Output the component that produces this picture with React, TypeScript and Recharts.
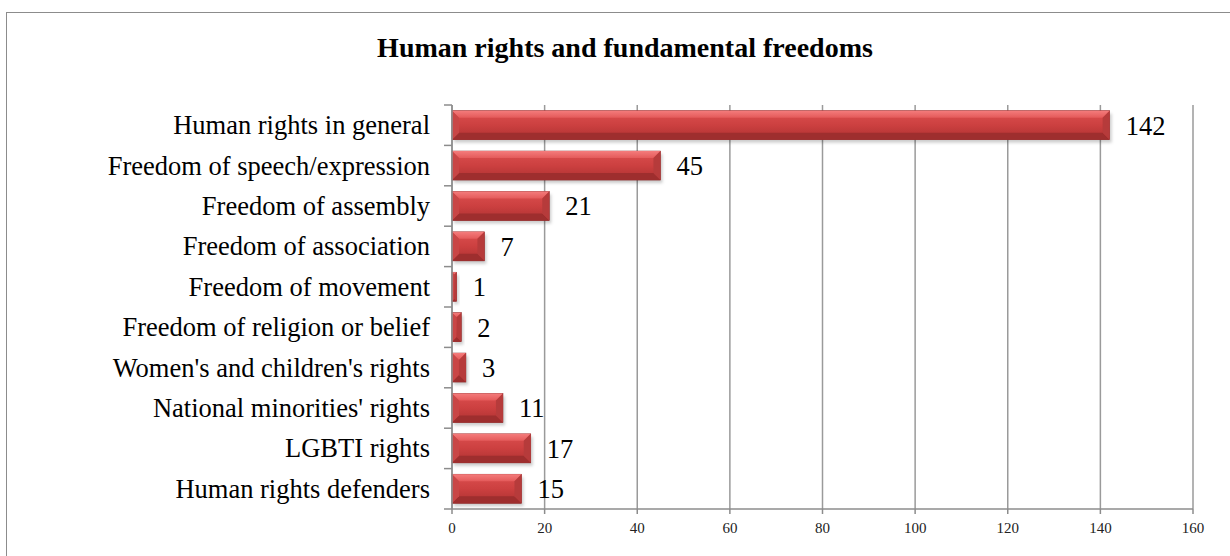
import { BarChart, Bar, XAxis, YAxis, CartesianGrid, LabelList } from 'recharts';

const categories = [
  'Human rights in general',
  'Freedom of speech/expression',
  'Freedom of assembly',
  'Freedom of association',
  'Freedom of movement',
  'Freedom of religion or belief',
  "Women's and children's rights",
  "National minorities' rights",
  'LGBTI rights',
  'Human rights defenders',
];
const counts = [142, 45, 21, 7, 1, 2, 3, 11, 17, 15];
const xTicks = [0, 20, 40, 60, 80, 100, 120, 140, 160];

const data = categories.map((name, i) => ({ name, value: counts[i] }));

const serif = '"Liberation Serif", "Times New Roman", serif';
const axisGrey = '#8c8c8c';
const BAND = 40.4;

// Bevelled red bar like the Office chart style
const BevelBar = (props: any) => {
  const { x, y, width, height } = props;
  if (!width || width <= 0) return null;
  const b = Math.min(7, width / 2, height / 2);
  return (
    <g>
      <rect x={x + 2} y={y + 3} width={width} height={height} fill="rgba(0,0,0,0.2)" filter="url(#barShadow)" />
      <rect x={x} y={y} width={width} height={height} fill="url(#barBody)" stroke="#842222" strokeWidth={0.6} />
      <polygon points={`${x},${y} ${x + width},${y} ${x + width - b},${y + b} ${x + b},${y + b}`} fill="url(#barTop)" />
      <polygon points={`${x},${y + height} ${x + width},${y + height} ${x + width - b},${y + height - b} ${x + b},${y + height - b}`} fill="#9e2e2e" />
      <polygon points={`${x},${y} ${x + b},${y + b} ${x + b},${y + height - b} ${x},${y + height}`} fill="#c94646" />
      <polygon points={`${x + width},${y} ${x + width - b},${y + b} ${x + width - b},${y + height - b} ${x + width},${y + height}`} fill="#b63b3b" />
    </g>
  );
};

const CategoryTick = (props: any) => {
  const { x, y, payload, index } = props;
  return (
    <g>
      <line x1={x} x2={x + 8} y1={y - BAND / 2} y2={y - BAND / 2} stroke={axisGrey} strokeWidth={1.5} />
      {index === categories.length - 1 && (
        <line x1={x} x2={x + 8} y1={y + BAND / 2} y2={y + BAND / 2} stroke={axisGrey} strokeWidth={1.5} />
      )}
      <text x={x - 14} y={y} dy={9} textAnchor="end" fontSize={26.5} fontFamily={serif} fill="#000">
        {payload.value}
      </text>
    </g>
  );
};

export default function App() {
  return (
    <div style={{ position: 'absolute', left: 0, top: 0, width: 1230, height: 556, overflow: 'hidden', background: '#fff' }}>
      <div
        style={{
          position: 'absolute',
          left: 6,
          top: 12,
          width: 1260,
          height: 580,
          border: `1.5px solid ${axisGrey}`,
          boxSizing: 'border-box',
        }}
      />
      <div
        style={{
          position: 'absolute',
          left: 0,
          top: 32,
          width: 1250,
          textAlign: 'center',
          fontFamily: serif,
          fontWeight: 'bold',
          fontSize: 28,
          lineHeight: '32px',
        }}
      >
        Human rights and fundamental freedoms
      </div>
      <div style={{ position: 'absolute', left: 0, top: 0 }}>
        <BarChart
          width={1230}
          height={556}
          data={data}
          layout="vertical"
          margin={{ top: 105, right: 37, bottom: 0, left: 0 }}
          barCategoryGap="14%"
        >
          <defs>
            <linearGradient id="barBody" x1="0" y1="0" x2="0" y2="1">
              <stop offset="0%" stopColor="#dc4f4f" />
              <stop offset="50%" stopColor="#cc4040" />
              <stop offset="100%" stopColor="#ad3131" />
            </linearGradient>
            <linearGradient id="barTop" x1="0" y1="0" x2="0" y2="1">
              <stop offset="0%" stopColor="#f47c7c" />
              <stop offset="100%" stopColor="#e45a5a" />
            </linearGradient>
            <filter id="barShadow" x="-10%" y="-50%" width="120%" height="200%">
              <feGaussianBlur stdDeviation="1.5" />
            </filter>
          </defs>
          <CartesianGrid horizontal={false} stroke="#9a9a9a" strokeWidth={1.5} />
          <XAxis
            type="number"
            domain={[0, 160]}
            ticks={xTicks}
            interval={0}
            height={47}
            stroke={axisGrey}
            strokeWidth={1.5}
            tickSize={5}
            tickMargin={8}
            tick={{ fontSize: 15, fontFamily: serif, fill: '#222' }}
          />
          <YAxis
            type="category"
            dataKey="name"
            width={452}
            stroke={axisGrey}
            strokeWidth={1.5}
            tickLine={false}
            tickSize={8}
            tickMargin={0}
            interval={0}
            tick={<CategoryTick />}
          />
          <Bar dataKey="value" shape={<BevelBar />} isAnimationActive={false}>
            <LabelList dataKey="value" position="right" offset={16} fontSize={26.5} fontFamily={serif} fill="#000" />
          </Bar>
        </BarChart>
      </div>
    </div>
  );
}
